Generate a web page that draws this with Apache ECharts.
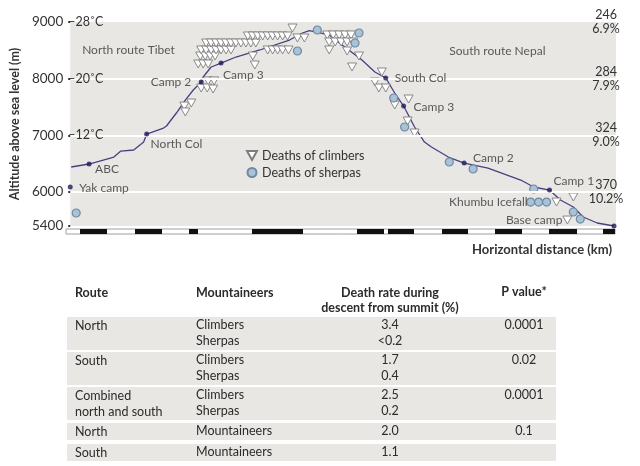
<!DOCTYPE html>
<html><head><meta charset="utf-8">
<script src="https://cdn.jsdelivr.net/npm/echarts@6/dist/echarts.min.js"></script>
<style>html,body{margin:0;padding:0;background:#fff}#c{width:640px;height:466px}</style>
</head><body><div id="c"></div>
<script>
// ---------- DATA ----------
// Route profile: [horizontal distance (arbitrary units along the route), altitude m]
const routeProfile = [[1,6441],[19,6494],[44,6617],[51,6723],[64,6741],[74,6882],[77,7023],[94,7129],[97,7165],[107,7394],[116,7623],[124,7800],[132,7941],[134,8029],[142,8206],[152,8276],[167,8382],[191,8506],[221,8682],[234,8806],[241,8848],[261,8771],[274,8594],[294,8329],[307,8118],[318,8012],[327,7747],[336,7517],[347,7147],[357,6882],[364,6794],[381,6617],[397,6511],[421,6423],[454,6211],[467,6088],[483,6035],[494,5858],[507,5735],[517,5559],[531,5453],[548,5400]];
const campNames = ['Yak camp','ABC','North Col','Camp 2','Camp 3','South Col','Camp 3','Camp 2','Camp 1','Base camp'];
const campPoints = [[0,6088],[19,6494],[77,7023],[132,7941],[152,8276],[318,8012],[336,7517],[397,6511],[483,6035],[548,5400]];
const climberDeaths = [
 [115,7517],[122,7570],[116,7412],
 [139,7960],[145,7960],[132,7835],[138,7835],[144,7817],
 [129,8259],[134,8259],[139,8259],[186,8241],
 [131,8400],[136,8400],[141,8400],[146,8400],[184,8400],
 [132,8506],[137,8506],[142,8506],[147,8506],[152,8506],[157,8506],[162,8506],
 [199,8506],[204,8506],[209,8506],[214,8506],[220,8506],
 [137,8629],[142,8629],[147,8629],[152,8629],[157,8629],[162,8629],[167,8629],[172,8629],[177,8629],[182,8629],[187,8629],
 [179,8753],[184,8753],[189,8753],[194,8753],[199,8753],[204,8753],[209,8753],[214,8753],[219,8753],
 [224,8894],[229,8718],[236,8718],
 [259,8771],[265,8771],[271,8771],[277,8771],[283,8771],
 [261,8647],[267,8647],[273,8647],[279,8647],[285,8647],
 [261,8506],[279,8488],[291,8400],[284,8206],
 [314,8118],[307,7941],[311,7835],[318,7835],
 [327,7535],[341,7641],[340,7253],[347,7041],
 [490,5823],[507,5912],[501,5505]
];
const sherpaDeaths = [[6,5629],[229,8488],[249,8859],[291,8806],[287,8629],[326,7659],[337,7147],[382,6529],[406,6406],[467,6053],[464,5823],[472,5823],[480,5823],[507,5647],[514,5523]];
const altitudeTicks = [5400,6000,7000,8000,9000];
const gridAltitudes = [6000,7000,8000];
const tempAltitudes = [7000,8000,9000];
const tempLabels = ['\u201312\u02daC','\u201320\u02daC','\u201328\u02daC'];
const rightAltitudes = [6000,7000,8000,9000];
const rightCounts = ['370','324','284','246'];
const rightPercents = ['10.2%','9.0%','7.9%','6.9%'];
const scaleSegments = [[14,41],[69,96],[123,132],[186,237],[291,318],[322,348],[376,402],[429,456],[483,511],[537,549]];
// Table
const tableHeader = ['Route','Mountaineers','Death rate during\ndescent from summit (%)','P value*'];
const tableRoutes = ['North','South','Combined\nnorth and south','North','South'];
const tableMountaineers = [['Climbers','Sherpas'],['Climbers','Sherpas'],['Climbers','Sherpas'],['Mountaineers'],['Mountaineers']];
const tableRates = [['3.4','<0.2'],['1.7','0.4'],['2.5','0.2'],['2.0'],['1.1']];
const tablePValues = ['0.0001','0.02','0.0001','0.1',''];

// ---------- LAYOUT (annotation anchors, not data) ----------
const annotations = [
 {t:'North route Tibet', at:[12,8506], side:'right'},
 {t:'South route Nepal', at:[382,8488], side:'right'},
 {t:'Yak camp', at:[9,6070], side:'right'},
 {t:'ABC', at:[25,6406], side:'right'},
 {t:'North Col', at:[81,6847], side:'right'},
 {t:'Camp 2', at:[122,7941], side:'left'},
 {t:'Camp 3', at:[154,8065], side:'right'},
 {t:'South Col', at:[327,8012], side:'right'},
 {t:'Camp 3', at:[346,7500], side:'right'},
 {t:'Camp 2', at:[406,6600], side:'right'},
 {t:'Camp 1', at:[487,6194], side:'right'},
 {t:'Khumbu Icefall', at:[461,5823], side:'left'},
 {t:'Base camp', at:[496,5505], side:'left'}
];
const FONT = 'Lato, "Open Sans", sans-serif';
const TXT = '#333';

const chart = echarts.init(document.getElementById('c'));

// table graphics
const tbl = [];
const colX = {route:75, mount:196, rate:390, p:524};
const bandX0 = 67, bandX1 = 556;
const groupTops = [317,352,387,423,444];
const lineH = 16;
const hdrStyle = {fontFamily:FONT, fontSize:12.5, fontWeight:'bold', fill:'#2b2b2b'};
const cellStyle = {fontFamily:FONT, fontSize:12.5, fill:'#2b2b2b'};
tbl.push({type:'text', left:colX.route, top:286, style:Object.assign({text:tableHeader[0]}, hdrStyle)});
tbl.push({type:'text', left:colX.mount, top:286, style:Object.assign({text:tableHeader[1]}, hdrStyle)});
tbl.push({type:'text', x:colX.rate, y:285, style:Object.assign({text:tableHeader[2], align:'center', lineHeight:15}, hdrStyle)});
tbl.push({type:'text', x:colX.p, y:285, style:Object.assign({text:tableHeader[3], align:'center'}, hdrStyle)});
tableRoutes.forEach((r,i)=>{
  const n = tableMountaineers[i].length;
  const top = groupTops[i];
  tbl.push({type:'rect', shape:{x:bandX0, y:top, width:bandX1-bandX0, height:n*lineH+1}, style:{fill:'#e9e7e4'}, z:-1});
  tbl.push({type:'text', x:colX.route, y:top+1, style:Object.assign({text:r, lineHeight:lineH}, cellStyle)});
  tableMountaineers[i].forEach((m,j)=>{
    tbl.push({type:'text', x:colX.mount, y:top+1+j*lineH, style:Object.assign({text:m}, cellStyle)});
    tbl.push({type:'text', x:colX.rate, y:top+1+j*lineH, style:Object.assign({text:tableRates[i][j], align:'center'}, cellStyle)});
  });
  if (tablePValues[i]) tbl.push({type:'text', x:colX.p, y:top+1, style:Object.assign({text:tablePValues[i], align:'center'}, cellStyle)});
});
tbl.push({type:'text', right:28, top:243, style:{text:'Horizontal distance (km)', fontFamily:FONT, fontSize:13, fontWeight:'bold', fill:TXT}});

const option = {
  animation:false,
  textStyle:{fontFamily:FONT},
  grid:[
    {left:66, width:550, top:22, height:204, show:true, backgroundColor:'#e9e7e4', borderWidth:0},
    {left:66, width:549, top:229, height:5, show:true, backgroundColor:'#fff', borderColor:'#a0a0a0', borderWidth:1}
  ],
  xAxis:[
    {type:'value', gridIndex:0, min:0, max:550, show:false},
    {type:'value', gridIndex:1, min:0, max:549, show:false}
  ],
  yAxis:[
    {type:'value', gridIndex:0, min:5400, max:9000, position:'left', z:10,
     axisLine:{show:false}, splitLine:{show:false},
     axisTick:{show:true, length:2, customValues:altitudeTicks, lineStyle:{color:'#333', width:2}},
     axisLabel:{customValues:altitudeTicks, margin:7, fontSize:13.5, color:TXT, fontFamily:FONT, formatter:v=>String(v)},
     name:'Altitude above sea level (m)', nameLocation:'middle', nameGap:46,
     nameTextStyle:{fontWeight:'bold', fontSize:12.5, color:TXT, fontFamily:FONT}},
    {type:'value', gridIndex:0, min:5400, max:9000, position:'left', z:10,
     axisLine:{show:false}, splitLine:{show:false}, axisTick:{show:false},
     axisLabel:{inside:true, margin:-2, align:'left', customValues:tempAltitudes, fontSize:12.5, color:TXT, fontFamily:FONT,
       formatter:v=>tempLabels[tempAltitudes.indexOf(+v)]}},
    {type:'value', gridIndex:0, min:5400, max:9000, position:'right', z:10,
     axisLine:{show:false}, splitLine:{show:false}, axisTick:{show:false},
     axisLabel:{inside:true, margin:10, align:'center', customValues:rightAltitudes, fontSize:12.5, lineHeight:14, color:TXT, fontFamily:FONT,
       formatter:v=>{const k=rightAltitudes.indexOf(+v); return rightCounts[k]+'\n'+rightPercents[k];}}},
    {type:'value', gridIndex:1, min:0, max:1, show:false}
  ],
  legend:{
    orient:'vertical', left:246, top:149, itemWidth:10, itemHeight:9, itemGap:4, padding:0,
    textStyle:{fontSize:12.5, color:TXT, fontFamily:FONT},
    data:[{name:'Deaths of climbers', icon:'path://M0,0L10,0L5,9Z'},{name:'Deaths of sherpas', icon:'circle'}]
  },
  series:[
    {type:'line', name:'grid', data:[], xAxisIndex:0, yAxisIndex:0, z:1, silent:true,
     markLine:{silent:true, symbol:'none', label:{show:false}, lineStyle:{color:'#fff', width:2, type:'solid'},
       data:gridAltitudes.map(a=>({yAxis:a}))}},
    {type:'line', name:'route', data:routeProfile, xAxisIndex:0, yAxisIndex:0, symbol:'none', z:2,
     lineStyle:{color:'#4b3f80', width:1.3}},
    {type:'scatter', name:'Deaths of climbers', data:climberDeaths, symbol:'triangle', symbolRotate:180, symbolSize:[9,8], z:3,
     itemStyle:{color:'#fff', borderColor:'#7d7d7d', borderWidth:0.9, opacity:1}},
    {type:'scatter', name:'Deaths of sherpas', data:sherpaDeaths, symbol:'circle', symbolSize:8, z:4,
     itemStyle:{color:'#a9c3d6', borderColor:'#6d8aa3', borderWidth:1.2, opacity:1}},
    {type:'scatter', name:'camps', data:campPoints.map((p,i)=>({name:campNames[i], value:p})), symbol:'circle', symbolSize:5, z:5,
     itemStyle:{color:'#1f1b5c'}},
    {type:'scatter', name:'annotations', symbolSize:0, z:6, silent:true,
     data:annotations.map(a=>({value:a.at, label:{show:true, formatter:a.t, position:'inside',
        align:a.side==='right'?'left':'right', verticalAlign:'middle',
        fontSize:12, color:TXT, fontFamily:FONT}}))},
    {type:'custom', name:'scale', xAxisIndex:1, yAxisIndex:3, data:scaleSegments, z:3, silent:true,
     renderItem:(params, api)=>{
       const s = api.coord([api.value(0), 0]);
       const e = api.coord([api.value(1), 1]);
       return {type:'rect', shape:{x:s[0], y:e[1], width:e[0]-s[0], height:s[1]-e[1]}, style:{fill:'#111'}};
     }}
  ],
  graphic: tbl
};
chart.setOption(option);
</script>
</body></html>
